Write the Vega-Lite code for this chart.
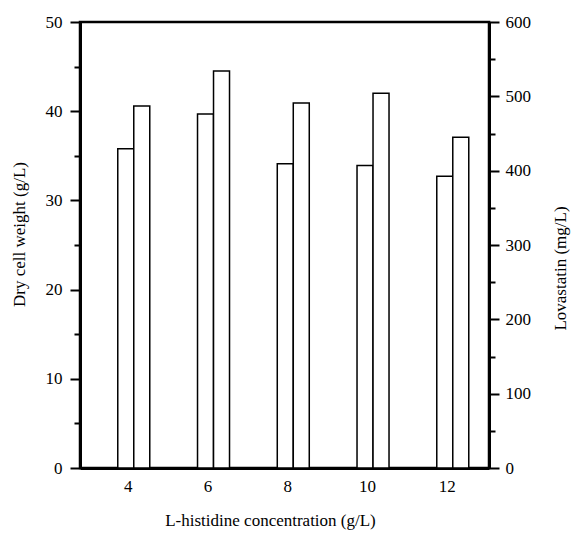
{
  "$schema": "https://vega.github.io/schema/vega-lite/v6.json",
  "autosize": "none",
  "width": 409,
  "height": 446,
  "padding": {"left": 80, "top": 22, "right": 83, "bottom": 74},
  "background": "white",
  "config": {
    "view": {"stroke": "black", "strokeWidth": 2.5},
    "font": "Liberation Serif",
    "style": {
      "guide-label": {"font": "Liberation Serif", "fill": "black"},
      "guide-title": {"font": "Liberation Serif", "fill": "black"}
    },
    "axis": {
      "labelColor": "black",
      "titleColor": "black",
      "domainColor": "black",
      "tickColor": "black",
      "titleFontWeight": "normal",
      "grid": false
    }
  },
  "data": {
    "values": [
      {"conc": 4, "dcw": 35.8, "lov": 487},
      {"conc": 6, "dcw": 39.7, "lov": 534},
      {"conc": 8, "dcw": 34.1, "lov": 491},
      {"conc": 10, "dcw": 33.9, "lov": 504},
      {"conc": 12, "dcw": 32.7, "lov": 445}
    ]
  },
  "encoding": {
    "x": {
      "field": "conc",
      "type": "quantitative",
      "scale": {"domain": [2.777, 12.783], "nice": false, "zero": false},
      "axis": {
        "values": [4, 6, 8, 10, 12],
        "title": "L-histidine concentration (g/L)",
        "labelFont": "Liberation Serif",
        "titleFont": "Liberation Serif",
        "labelFontSize": 17,
        "titleFontSize": 17,
        "domainWidth": 3,
        "tickSize": 0,
        "labelPadding": 10,
        "labelOffset": -6,
        "titleX": 190,
        "titleY": 52,
        "titleBaseline": "middle",
        "titleAlign": "center"
      }
    }
  },
  "layer": [
    {
      "mark": {"type": "bar", "fill": "white", "stroke": "black", "strokeWidth": 1.5, "size": 16, "xOffset": -8},
      "encoding": {
        "y": {
          "field": "dcw",
          "type": "quantitative",
          "scale": {"domain": [0, 50], "nice": false},
          "axis": {
            "orient": "left",
            "values": [0, 5, 10, 15, 20, 25, 30, 35, 40, 45, 50],
            "labelExpr": "datum.value % 10 === 0 ? datum.label : ''",
            "labelFont": "Liberation Serif",
            "titleFont": "Liberation Serif",
            "labelFontSize": 17,
            "titleFontSize": 17,
            "tickSize": {"condition": {"test": "datum.value % 10 === 0", "value": 10}, "value": 6},
            "tickWidth": 2,
            "domainWidth": 3,
            "labelPadding": 8,
            "title": "Dry cell weight (g/L)",
            "titleAngle": -90,
            "titleX": -61,
            "titleY": 212,
            "titleBaseline": "middle",
            "titleAlign": "center"
          }
        }
      }
    },
    {
      "mark": {"type": "bar", "fill": "white", "stroke": "black", "strokeWidth": 1.5, "size": 16, "xOffset": 8},
      "encoding": {
        "y": {
          "field": "lov",
          "type": "quantitative",
          "scale": {"domain": [0, 600], "nice": false},
          "axis": {
            "orient": "right",
            "values": [0, 50, 100, 150, 200, 250, 300, 350, 400, 450, 500, 550, 600],
            "labelExpr": "datum.value % 100 === 0 ? datum.label : ''",
            "labelFont": "Liberation Serif",
            "titleFont": "Liberation Serif",
            "labelFontSize": 17,
            "titleFontSize": 17,
            "tickSize": {"condition": {"test": "datum.value % 100 === 0", "value": 10}, "value": 6},
            "tickWidth": 2,
            "domainWidth": 3,
            "labelPadding": 6,
            "title": "Lovastatin (mg/L)",
            "titleAngle": -90,
            "titleX": 71,
            "titleY": 246,
            "titleBaseline": "middle",
            "titleAlign": "center"
          }
        }
      }
    }
  ],
  "resolve": {"scale": {"y": "independent"}}
}
